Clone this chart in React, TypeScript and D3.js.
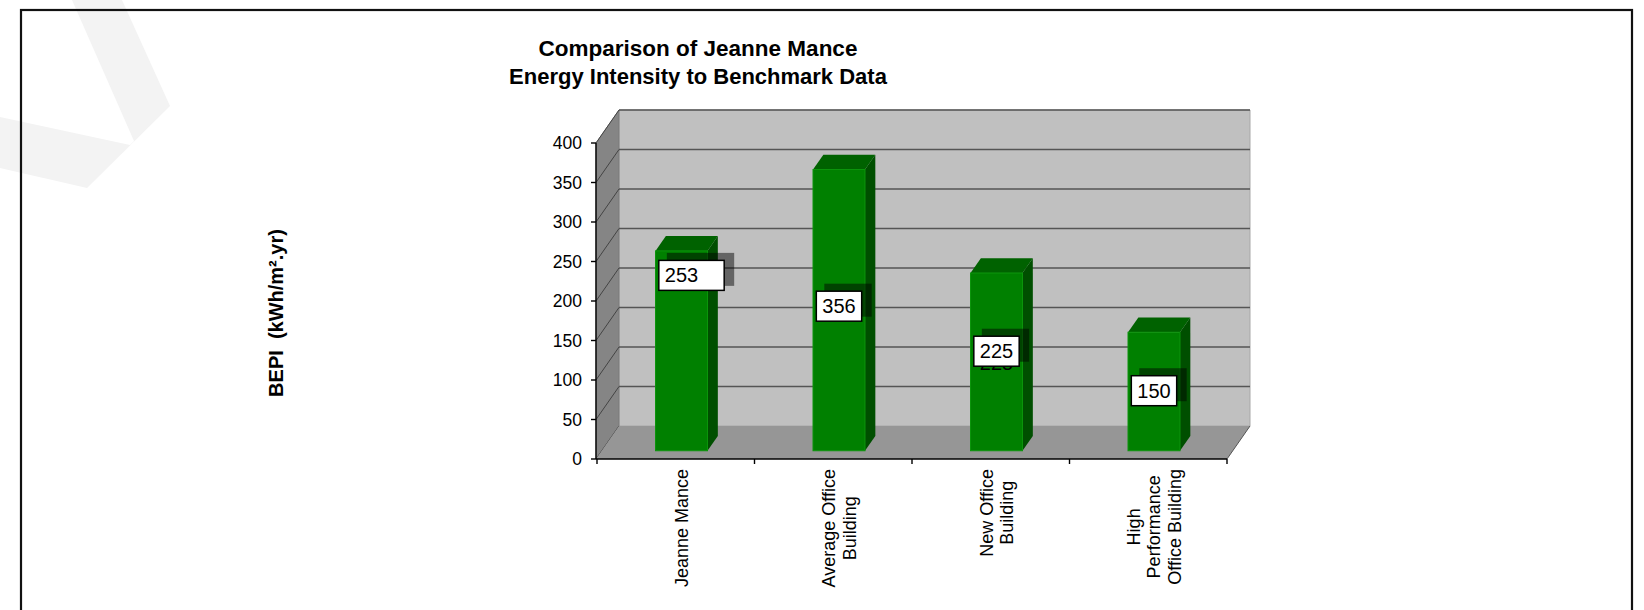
import React from "react";
import * as d3 from "d3";

// ---- data ----
const categories = [
  "Jeanne Mance",
  "Average Office Building",
  "New Office Building",
  "High Performance Office Building",
];
const categoryLines = [
  ["Jeanne Mance"],
  ["Average Office", "Building"],
  ["New Office", "Building"],
  ["High", "Performance", "Office Building"],
];
const values = [253, 356, 225, 150];
const labelAnchorValues = [222, 183, 126, 76];
const yTicks = [0, 50, 100, 150, 200, 250, 300, 350, 400];
const titleLines = ["Comparison of Jeanne Mance", "Energy Intensity to Benchmark Data"];
const yTitle = "BEPI  (kWh/m\u00B2.yr)";

// ---- layout / style ----
const W = 1644;
const H = 610;
const FONT = "'Liberation Sans', Arial, Helvetica, sans-serif";
const DEPTH_DX = 23;
const DEPTH_DY = -33;
const BAR_Z0 = 0.25;
const BAR_Z1 = 0.7;
const labelBoxExtra = [20, 0, 0, 0];
const ghostIndex = 2;
const CAT_FS = 18;

let measureCtx: CanvasRenderingContext2D | null = null;
function measure(text: string, fs: number) {
  if (typeof document !== "undefined") {
    if (!measureCtx) measureCtx = document.createElement("canvas").getContext("2d");
    if (measureCtx) {
      measureCtx.font = `${fs}px ${FONT}`;
      return measureCtx.measureText(text).width;
    }
  }
  return text.length * fs * 0.52;
}

export default function App() {
  const x = d3.scaleBand<string>().domain(categories).range([597, 1227]).padding(0);
  const xb = d3
    .scaleBand<string>()
    .domain(categories)
    .range([597, 1227])
    .paddingInner(0.67)
    .paddingOuter(0.335);
  const y = d3.scaleLinear().domain([0, 400]).range([459, 143]);

  const xL = 596;
  const xR = 1227;
  const proj = (px: number, py: number, z: number): [number, number] => [
    px + z * DEPTH_DX,
    py + z * DEPTH_DY,
  ];
  const pts = (arr: [number, number][]) => arr.map((p) => p.join(",")).join(" ");

  const yTop = y(400);
  const y0 = y(0);

  const backWall = pts([
    proj(xL, yTop, 1),
    proj(xR, yTop, 1),
    proj(xR, y0, 1),
    proj(xL, y0, 1),
  ]);
  const sideWall = pts([
    [xL, yTop],
    proj(xL, yTop, 1),
    proj(xL, y0, 1),
    [xL, y0],
  ]);
  const floor = pts([[xL, y0], [xR, y0], proj(xR, y0, 1), proj(xL, y0, 1)]);

  const bw = xb.bandwidth();
  const bdx = (BAR_Z1 - BAR_Z0) * DEPTH_DX;
  const bdy = (BAR_Z1 - BAR_Z0) * DEPTH_DY;

  const labelFs = 20;
  const boxH = 30;

  return (
    <svg
      width={W}
      height={H}
      style={{ position: "absolute", left: 0, top: 0, background: "#fff" }}
      fontFamily={FONT}
    >
      {/* watermark */}
      <polygon
        points="72,0 122,0 170,106 87,188 0,168 0,117 130,145 134,141"
        fill="#f3f3f3"
      />
      {/* chart border */}
      <rect x={21} y={10} width={1611} height={640} fill="none" stroke="#111" strokeWidth={2.2} />

      {/* title */}
      {titleLines.map((t, i) => (
        <text
          key={t}
          x={698}
          y={48 + i * 28.5}
          dy="0.35em"
          textAnchor="middle"
          fontWeight="bold"
          fontSize={i === 0 ? 22.5 : 22}
          fill="#000"
        >
          {t}
        </text>
      ))}

      {/* y title */}
      <text
        transform={`translate(276,313) rotate(-90)`}
        textAnchor="middle"
        dy="0.35em"
        fontWeight="bold"
        fontSize={20}
        style={{ whiteSpace: "pre" }}
      >
        {yTitle}
      </text>

      {/* walls */}
      <polygon points={backWall} fill="#c0c0c0" stroke="#a8a8a8" strokeWidth={1} />
      <polygon points={sideWall} fill="#858585" stroke="#777" strokeWidth={0.8} />
      {yTicks
        .filter((t) => t > 0)
        .map((t) => {
          const a = proj(xL, y(t), 1);
          const b = proj(xR, y(t), 1);
          return (
            <line key={"g" + t} x1={a[0]} y1={a[1]} x2={b[0]} y2={b[1]} stroke="#555" strokeWidth={1.4} />
          );
        })}
      {yTicks.map((t) => {
        const b = proj(xL, y(t), 1);
        return <line key={"s" + t} x1={xL} y1={y(t)} x2={b[0]} y2={b[1]} stroke="#444" strokeWidth={1} />;
      })}
      <polygon points={floor} fill="#969696" />
      <line
        x1={xR}
        y1={y0}
        x2={proj(xR, y0, 1)[0]}
        y2={proj(xR, y0, 1)[1]}
        stroke="#555"
        strokeWidth={1}
      />

      {/* bars */}
      {categories.map((c, i) => {
        const [fx, fyTop] = proj(xb(c) as number, y(values[i]), BAR_Z0);
        const fyBot = proj(0, y(0), BAR_Z0)[1];
        return (
          <g key={"bar" + c}>
            <polygon
              points={pts([
                [fx + bw, fyTop],
                [fx + bw + bdx, fyTop + bdy],
                [fx + bw + bdx, fyBot + bdy],
                [fx + bw, fyBot],
              ])}
              fill="#004f00"
            />
            <polygon
              points={pts([
                [fx, fyTop],
                [fx + bdx, fyTop + bdy],
                [fx + bw + bdx, fyTop + bdy],
                [fx + bw, fyTop],
              ])}
              fill="#006200"
            />
            <rect
              x={fx}
              y={fyTop}
              width={bw}
              height={fyBot - fyTop}
              fill="#008000"
              stroke="#0c950c"
              strokeWidth={1}
            />
          </g>
        );
      })}

      {/* axes */}
      <line x1={xL} y1={yTop} x2={xL} y2={y0} stroke="#000" strokeWidth={1.4} />
      {yTicks.map((t) => (
        <g key={"yt" + t}>
          <line x1={xL - 5} y1={y(t)} x2={xL} y2={y(t)} stroke="#000" strokeWidth={1.4} />
          <text x={582} y={y(t)} dy="0.36em" textAnchor="end" fontSize={17.5} fill="#000">
            {t}
          </text>
        </g>
      ))}
      <line x1={xL} y1={y0} x2={xR} y2={y0} stroke="#000" strokeWidth={1.4} />
      {[...categories.map((c) => x(c) as number), xR].map((v, i) => (
        <line key={"xt" + i} x1={v} y1={y0} x2={v} y2={y0 + 5} stroke="#000" strokeWidth={1.4} />
      ))}

      {/* category labels: block top-aligned, lines centred within block */}
      {categories.map((c, i) => {
        const cx = (x(c) as number) + x.bandwidth() / 2 + BAR_Z0 * DEPTH_DX;
        const lines = categoryLines[i];
        const lh = 20.5;
        const maxW = Math.max(...lines.map((ln) => measure(ln, CAT_FS)));
        const cy = 469 + maxW / 2;
        return (
          <g key={"cl" + c}>
            {lines.map((ln, j) => (
              <text
                key={ln + j}
                transform={`translate(${cx + (j - (lines.length - 1) / 2) * lh},${cy}) rotate(-90)`}
                textAnchor="middle"
                dy="0.35em"
                fontSize={CAT_FS}
                fill="#000"
              >
                {ln}
              </text>
            ))}
          </g>
        );
      })}

      {/* data labels */}
      {categories.map((c, i) => {
        const label = String(values[i]);
        const cx = (xb(c) as number) + bw / 2 + BAR_Z0 * DEPTH_DX;
        const cy = proj(0, y(labelAnchorValues[i]), BAR_Z0)[1];
        const baseW = label.length * 0.556 * labelFs + 12;
        const bx = cx - baseW / 2;
        const by = cy - boxH / 2;
        const w = baseW + labelBoxExtra[i];
        return (
          <g key={"lab" + c}>
            <rect x={bx + 8} y={by - 7.5} width={w + 2} height={boxH + 3} fill="#000" opacity={0.48} />
            {i === ghostIndex && (
              <text x={bx + 6} y={cy + 7 + 12} fontSize={labelFs} fill="#000">
                {label}
              </text>
            )}
            <rect x={bx} y={by} width={w} height={boxH} fill="#fff" stroke="#000" strokeWidth={1.5} />
            <text x={bx + 6} y={cy + 7} fontSize={labelFs} fill="#000">
              {label}
            </text>
          </g>
        );
      })}
    </svg>
  );
}
